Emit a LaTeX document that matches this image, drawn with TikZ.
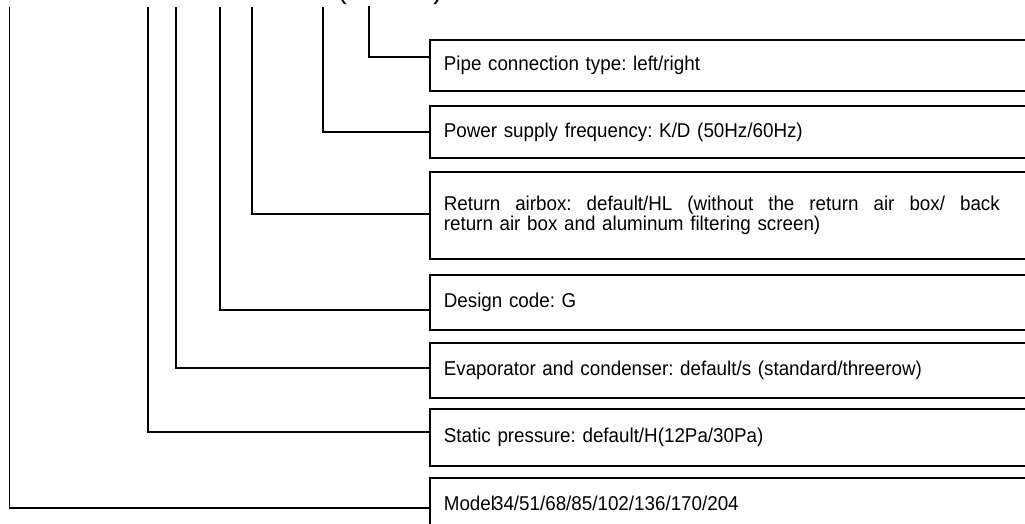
\documentclass[tikz,border=0pt]{standalone}
\usepackage{fontspec}
\setmainfont{Liberation Sans}[FakeStretch=0.94]
\usepackage{tikz}

\newcommand\fieldfont{\fontsize{20}{18.5}\selectfont\frenchspacing\parindent0pt\relax}
% one line stretched out to a given width
\newcommand\spreadline[2]{\hbox to #1{\spaceskip=5pt plus 20pt\relax #2}}

\tikzset{
  field/.style={draw, line width=1.7pt, anchor=north west,
    text width=672pt, inner xsep=14pt, inner ysep=0pt, align=left,
    font=\fieldfont},
  lead/.style={line width=1.3pt},
  paren/.style={anchor=south, inner sep=0pt, font=\fontsize{30}{30}\selectfont},
}

\begin{document}
\begin{tikzpicture}[x=1pt, y=-1pt]
      \useasboundingbox (0,0) rectangle (1025,524);
      \clip (0,0) rectangle (1025,524);

      % option boxes, top to bottom
      \node[field, minimum height=51pt] (pipe) at (429, 39) {Pipe connection type: left/right};
      \node[field, minimum height=52pt] (power) at (429, 105) {Power supply frequency: K/D (50Hz/60Hz)};
      \node[field, minimum height=87pt] (airbox) at (429, 171) {\spreadline{556pt}{Return airbox: default/HL (without the return air box/ back}\\return air box and aluminum filtering screen)};
      \node[field, minimum height=55pt] (design) at (429, 274) {Design code: G};
      \node[field, minimum height=55pt] (evap) at (429, 342) {Evaporator and condenser: default/s (standard/threerow)};
      \node[field, minimum height=57pt] (pressure) at (429, 408) {Static pressure: default/H(12Pa/30Pa)};
      \node[field, minimum height=51pt] (model) at (429, 477) {Model\kern-2pt34/51/68/85/102/136/170/204};

      % brackets of the code line, cut off at the top
      \node[paren] (lparen) at (342, 5) {(};
      \node[paren] (rparen) at (438, 5) {)};

      % upper ends of the leader lines
      \coordinate (pipetop) at (369, 6);
      \coordinate (powertop) at (323, 7);
      \coordinate (airboxtop) at (252, 7);
      \coordinate (designtop) at (220, 7);
      \coordinate (evaptop) at (176, 7);
      \coordinate (pressuretop) at (148, 7);
      \coordinate (modeltop) at (9.5, 7);

      \draw[lead] (pipetop) |- (pipe.west |- 0,57);
      \draw[lead] (powertop) |- (power.west |- 0,132);
      \draw[lead] (airboxtop) |- (airbox.west |- 0,214);
      \draw[lead] (designtop) |- (design.west |- 0,310);
      \draw[lead] (evaptop) |- (evap.west |- 0,368);
      \draw[lead] (pressuretop) |- (pressure.west |- 0,432);
      \draw[lead] (modeltop) |- (model.west |- 0,508);
\end{tikzpicture}
\end{document}
